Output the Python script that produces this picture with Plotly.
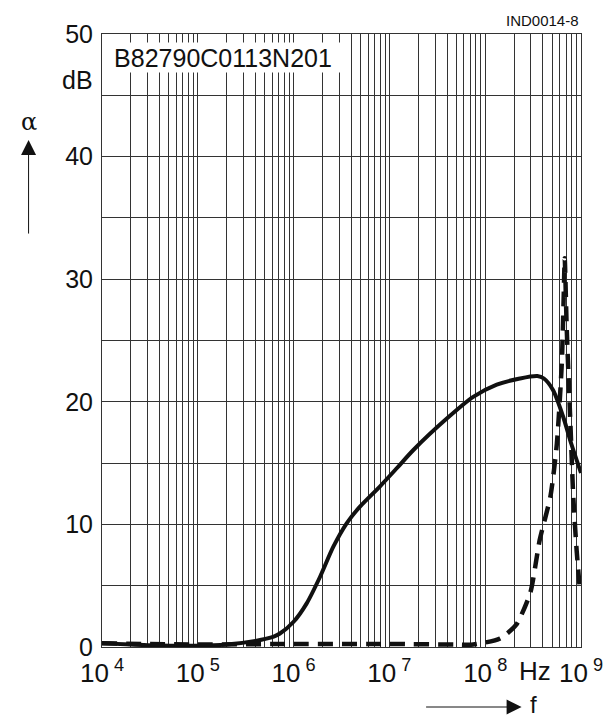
import plotly.graph_objects as go

# Solid curve (frequency in Hz, attenuation in dB)
solid_f = [1e4, 3e4, 1e5, 2e5, 4e5, 6.2e5, 7.2e5, 1e6, 1.37e6, 1.89e6, 2.6e6, 3.58e6,
           4.93e6, 7.9e6, 1.2e7, 1.78e7, 4e7, 7.5e7, 1.32e8, 2.3e8, 3.5e8,
           4.1e8, 5.1e8, 6.5e8, 7.9e8, 1e9]
solid_db = [0.3, 0.15, 0.1, 0.2, 0.5, 0.85, 1.1, 2.06, 3.56, 5.73, 8.18, 10.09,
            11.45, 13.07, 14.6, 16.07, 18.65, 20.4, 21.4, 21.9, 22.1,
            21.9, 20.96, 18.8, 16.6, 14.2]

# Dashed curve
dash_f = [1e4, 1e5, 1e6, 1e7, 5e7, 7.5e7, 1.43e8, 2.1e8, 2.95e8, 3.7e8, 4.8e8,
          5.6e8, 6.3e8, 6.6e8, 6.76e8, 7.1e8, 7.7e8, 8.3e8, 9e8, 9.8e8]
dash_db = [0.3, 0.2, 0.25, 0.25, 0.2, 0.2, 0.7, 1.8, 4.4, 8.7, 12.3,
           16.6, 23.1, 28.6, 31.7, 25.9, 18.8, 12.3, 7.9, 4.4]

x_tick_vals = [1e4, 1e5, 1e6, 1e7, 1e8, 1e9]
x_tick_text = ["10<sup> 4</sup>", "10<sup> 5</sup>", "10<sup> 6</sup>",
               "10<sup> 7</sup>", "10<sup> 8</sup>", "10<sup> 9</sup>"]
y_tick_vals = [0, 10, 20, 30, 40, 50]
y_minor_vals = [5, 15, 25, 35, 45]

x_minor_vals = [m * 10 ** e for e in range(4, 9) for m in range(2, 10)]

FONT = "Liberation Sans, Arial, sans-serif"
GRID = "#333333"

fig = go.Figure()
fig.add_trace(go.Scatter(x=solid_f, y=solid_db, mode="lines",
                         line=dict(color="#111111", width=4, shape="spline", smoothing=0.8),
                         showlegend=False, hoverinfo="skip"))
fig.add_trace(go.Scatter(x=dash_f, y=dash_db, mode="lines",
                         line=dict(color="#111111", width=4.5, dash="15px,9px",
                                   shape="spline", smoothing=0.6),
                         showlegend=False, hoverinfo="skip"))

fig.update_layout(
    width=615, height=720,
    margin=dict(l=94, r=42, t=26, b=81),
    paper_bgcolor="white", plot_bgcolor="white",
    font=dict(family=FONT, size=24, color="#111111"),
    xaxis=dict(type="log", range=[4, 9], tickvals=x_tick_vals, ticktext=x_tick_text,
               tickfont=dict(size=26),
               showgrid=True, gridcolor=GRID, gridwidth=1,
               ticks="outside", ticklen=3, tickcolor="rgba(0,0,0,0)",
               showline=True, linecolor=GRID, linewidth=1, mirror=True,
               zeroline=False,
               minor=dict(tickvals=x_minor_vals, showgrid=True, gridcolor=GRID,
                          gridwidth=1, ticks="")),
    yaxis=dict(range=[0, 50], tickvals=y_tick_vals, tickfont=dict(size=25),
               showgrid=True, gridcolor=GRID, gridwidth=1,
               ticks="outside", ticklen=3, tickcolor="rgba(0,0,0,0)",
               showline=True, linecolor=GRID, linewidth=1, mirror=True,
               zeroline=False,
               minor=dict(tickvals=y_minor_vals, showgrid=True, gridcolor=GRID,
                          gridwidth=1, ticks="")),
)

# Part number box covering the grid
fig.add_annotation(xref="paper", yref="paper", x=0.0015, y=0.9617,
                   xanchor="left", yanchor="middle",
                   text="B82790C0113N201", showarrow=False,
                   font=dict(family=FONT, size=25, color="#111111"),
                   bgcolor="white", width=238, height=29, align="center", borderpad=0)

# dB unit
fig.add_annotation(xref="paper", yref="paper", x=-0.052, y=0.925,
                   xanchor="center", yanchor="middle", text="dB", showarrow=False,
                   font=dict(family=FONT, size=25, color="#111111"))
# Hz unit
fig.add_annotation(xref="paper", yref="paper", x=0.905, y=-0.005, yshift=-4,
                   xanchor="center", yanchor="top", text="Hz", showarrow=False,
                   font=dict(family=FONT, size=26, color="#111111"))
# Figure ID
fig.add_annotation(xref="paper", yref="paper", x=1.0, y=1.0, yshift=14,
                   xanchor="right", yanchor="middle", text="IND0014-8", showarrow=False,
                   font=dict(family=FONT, size=15, color="#111111"))

# alpha with arrow
fig.add_annotation(xref="paper", yref="paper", x=-0.1533, y=0.857,
                   xanchor="center", yanchor="middle", text="α", showarrow=False,
                   font=dict(family="DejaVu Serif, serif", size=24, color="#111111"))
fig.add_annotation(xref="paper", yref="paper", x=-0.1533, y=0.827,
                   ax=0, ay=95, axref="pixel", ayref="pixel",
                   text="", showarrow=True, arrowhead=2, arrowsize=3,
                   arrowwidth=1, arrowcolor="#111111")

# f with arrow
fig.add_annotation(xref="paper", yref="paper", x=0.876, y=-0.0979,
                   ax=-97, ay=0, axref="pixel", ayref="pixel",
                   text="", showarrow=True, arrowhead=2, arrowsize=3,
                   arrowwidth=1, arrowcolor="#111111")
fig.add_annotation(xref="paper", yref="paper", x=0.9, y=-0.094,
                   xanchor="center", yanchor="middle", text="f", showarrow=False,
                   font=dict(family=FONT, size=24, color="#111111"))

fig.write_html("out.html")
